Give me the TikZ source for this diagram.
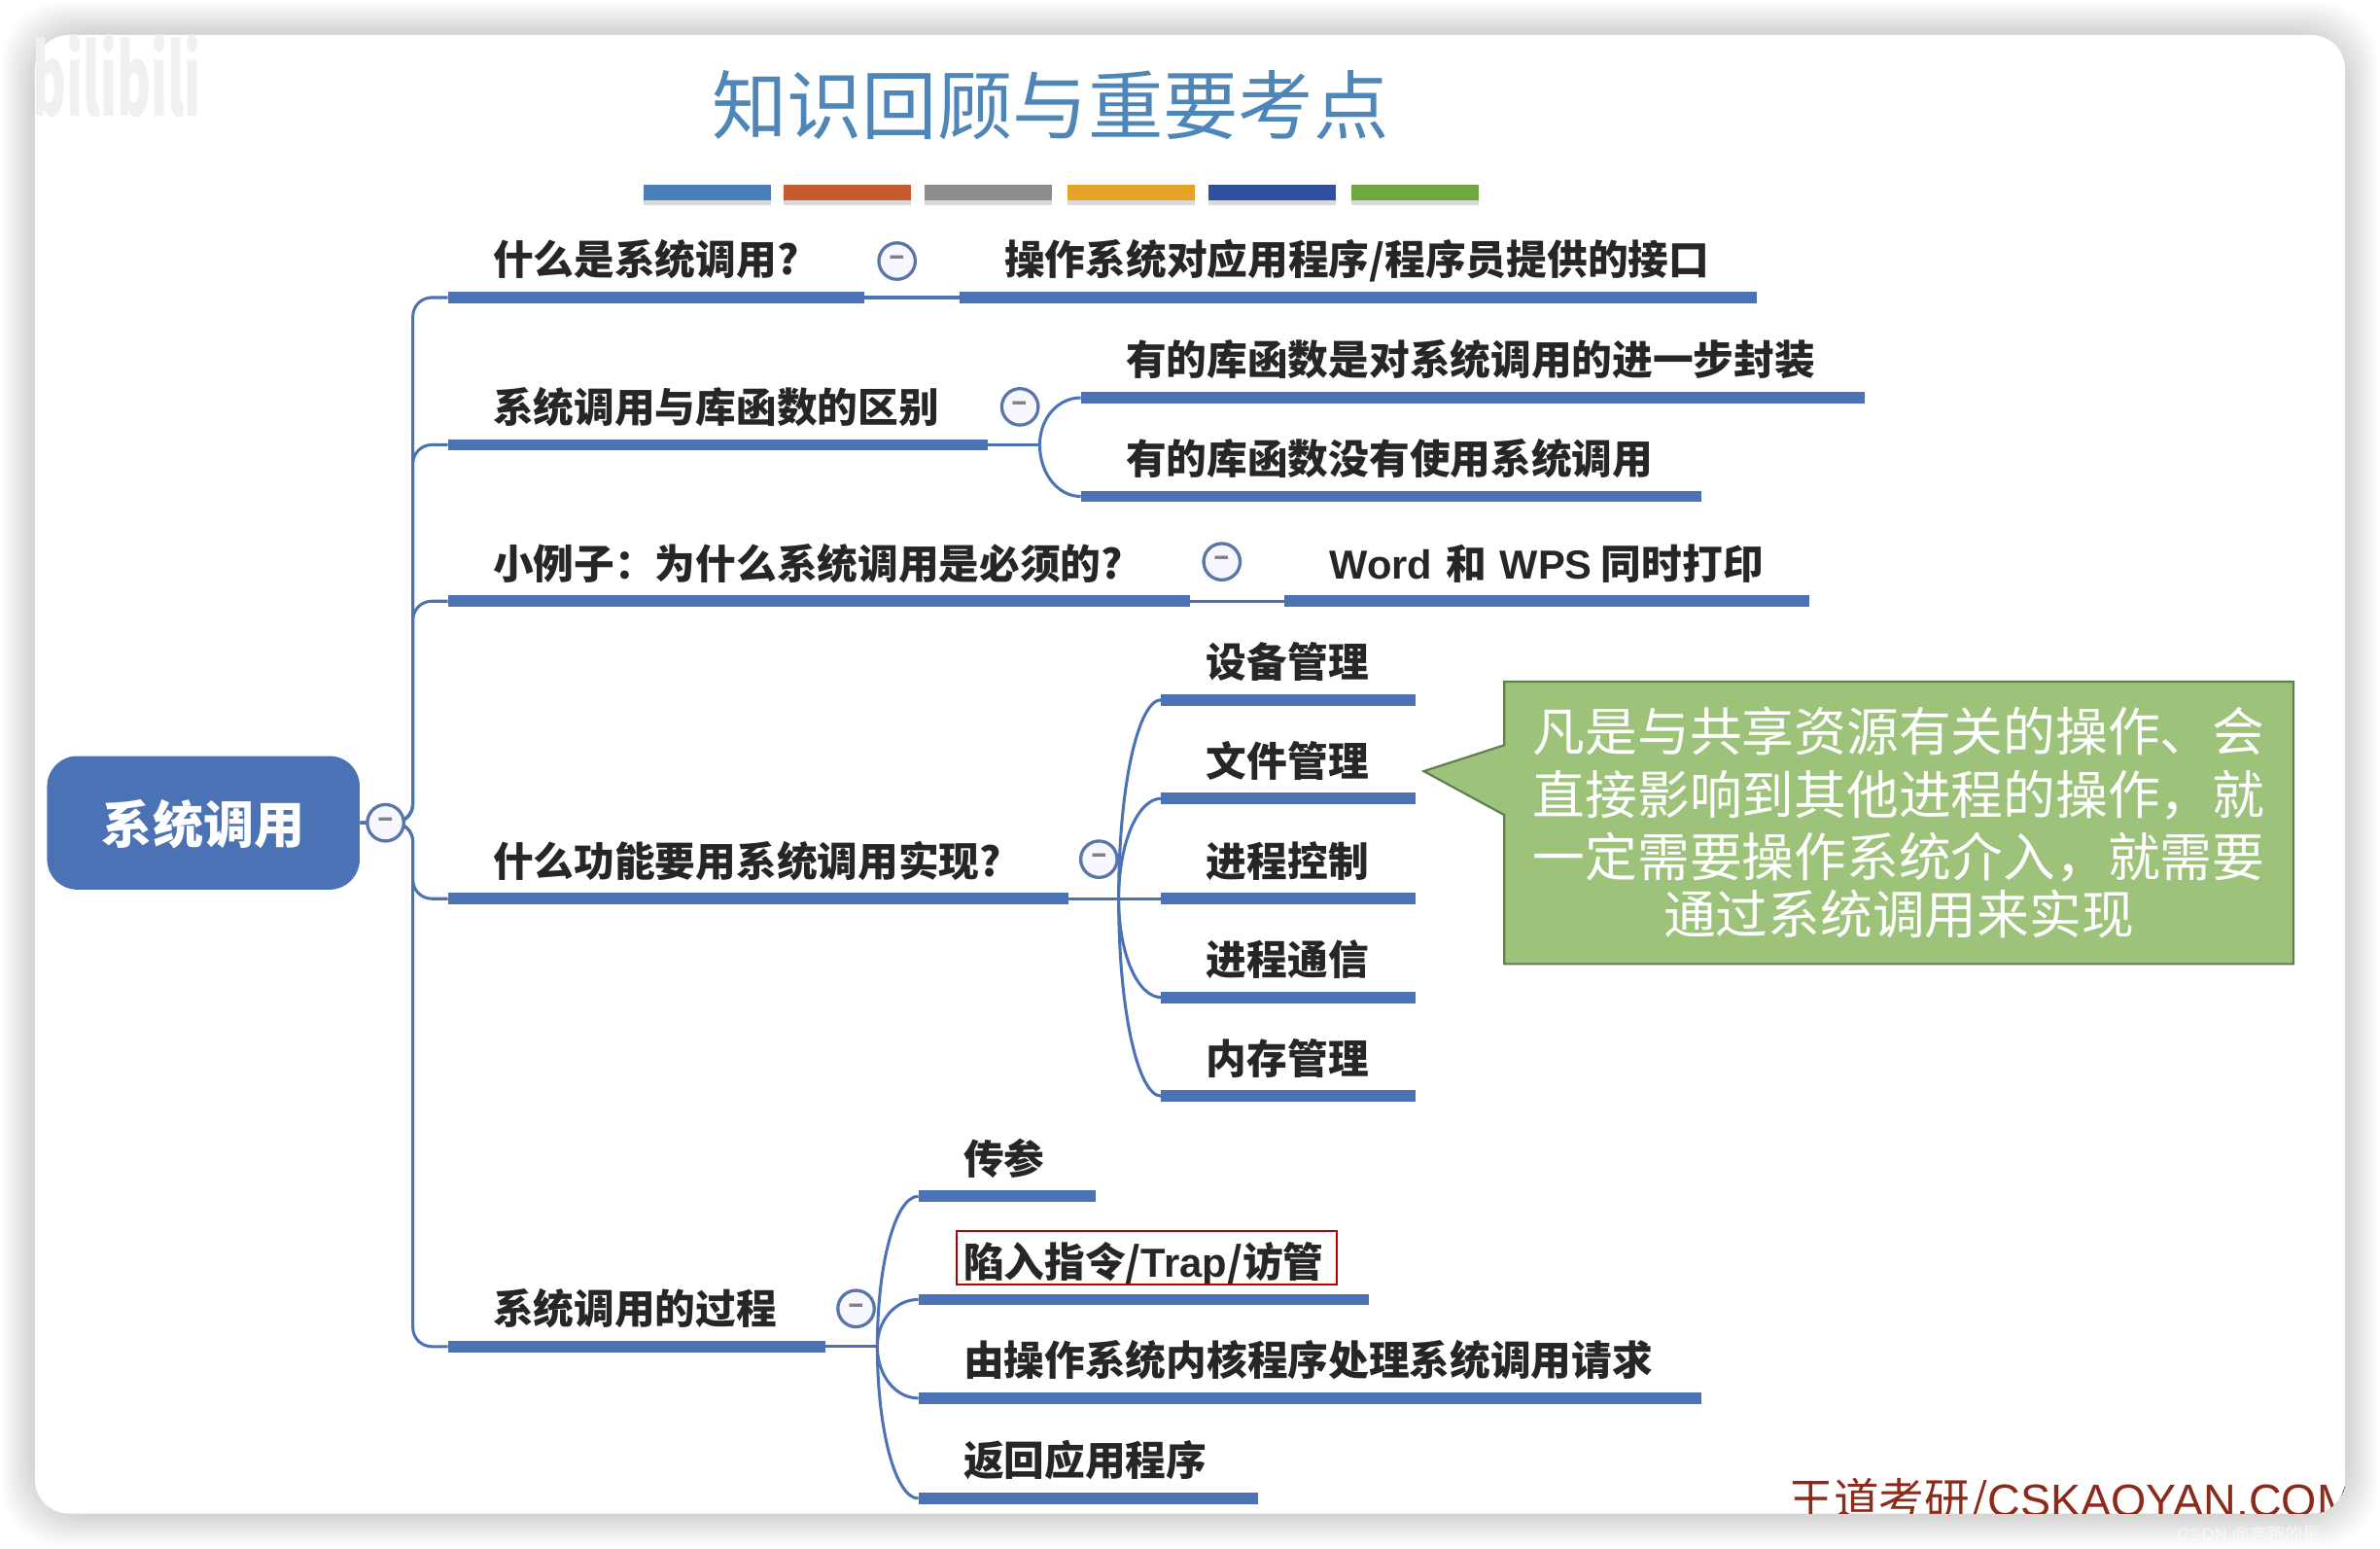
\documentclass[tikz,border=0pt]{standalone}
\usepackage{fontspec}
\setmainfont{Noto Sans CJK SC}
\newfontfamily\latinfont{Liberation Sans}
\usetikzlibrary{shapes.callouts}
\definecolor{mapblue}{HTML}{4A72B5}
\definecolor{foldblue}{HTML}{5A76A8}
\definecolor{titleblue}{HTML}{4F86B8}
\definecolor{notegreen}{HTML}{9DC37A}
\definecolor{noteedge}{HTML}{5F7F50}
\definecolor{brandred}{HTML}{8C2B1C}
\newcommand{\widecomma}{\symbol{"FF0C}}
\newcommand{\widecolon}{\symbol{"FF1A}}
\tikzset{
   topic/.style={anchor=south west, inner xsep=0.59cm, inner ysep=0.19cm,
      text width={#1*0.02cm-1.18cm}, text height=0.44cm, text depth=0.1cm,
      align=left, text=black!85, font=\fontsize{15.2pt}{18pt}\selectfont\bfseries,
      append after command={(\tikzlastnode.south west) edge[bar] (\tikzlastnode.south east)}},
   bar/.style={draw=mapblue, line width=0.15cm},
   link/.style={draw=mapblue, line width=1.1pt},
   branch/.style={in=180, out distance=#1, in distance=0.3cm},
   fold/.style={circle, draw=foldblue, fill=blue!3, line width=1.2pt, minimum size=0.48cm,
      inner sep=0pt, text=black!50, font=\fontsize{11pt}{11pt}\selectfont\bfseries},
}
\begin{document}
\begin{tikzpicture}
   [x=0.02cm, y=-0.02cm]
   \useasboundingbox (0,0) rectangle (1568,1020);
   \foreach \d in {1,...,22}
      \fill[black, opacity=0.008, rounded corners=0.8cm] (23-\d,23-\d) rectangle (1545+\d,997+\d);
   \fill[white, rounded corners=0.45cm] (23,23) rectangle (1545,997);

   \node[text=black!6, font=\fontsize{19.4pt}{24pt}\selectfont\bfseries, inner sep=0pt] (mark) at (77,50) {\scalebox{1}[1.9]{bilibili}};
   \node[text=titleblue, font=\fontsize{28.2pt}{32pt}\selectfont] (title) at (692,69) {知识回顾与重要考点};
   \foreach \x/\c in {424/4A7EBB,516/C55A2B,609/8C8C8C,703/E5A427,796/2F4FA0,890/6FA83C} {
      \definecolor{stripe}{HTML}{\c}
      \fill[black, opacity=0.15] (\x,125) rectangle ++(84,10);
      \fill[stripe] (\x,122) rectangle ++(84,10);
   }

   \node[rectangle, rounded corners=0.4cm, fill=mapblue, text=white, minimum width=4.12cm, minimum height=1.76cm,
      text height=0.71cm, text depth=0.16cm,
      font=\fontsize{19pt}{22pt}\selectfont\bfseries] (root) at (134,542) {系统调用};
   \coordinate (trunk) at (272,542);

   \node[topic=274] (what) at (295,196) {什么是系统调用?};
   \node[topic=525] (whatA) at (632,196) {操作系统对应用程序/程序员提供的接口};
   \node[topic=355] (lib) at (295,293) {系统调用与库函数的区别};
   \node[topic=516] (libA) at (712,262) {有的库函数是对系统调用的进一步封装};
   \node[topic=408] (libB) at (712,327) {有的库函数没有使用系统调用};
   \node[topic=488] (demo) at (295,396) {小例子\widecolon 为什么系统调用是必须的?};
   \node[topic=345] (demoA) at (846,396) {{\latinfont Word~}和{\latinfont ~WPS}\hspace{0.12cm}同时打印};
   \node[topic=408] (func) at (295,592) {什么功能要用系统调用实现?};
   \node[topic=167] (funcA) at (765,461) {设备管理};
   \node[topic=167] (funcB) at (765,526) {文件管理};
   \node[topic=167] (funcC) at (765,592) {进程控制};
   \node[topic=167] (funcD) at (765,657) {进程通信};
   \node[topic=167] (funcE) at (765,722) {内存管理};
   \node[topic=248] (flow) at (295,887) {系统调用的过程};
   \node[topic=116] (flowA) at (605,788) {传参};
   \node[topic=296] (flowB) at (605,856) {陷入指令/{\latinfont Trap}/访管};
   \node[topic=515] (flowC) at (605,921) {由操作系统内核程序处理系统调用请求};
   \node[topic=223] (flowD) at (605,987) {返回应用程序};

   \coordinate (libJoin) at (685,293);
   \coordinate (funcJoin) at (737,592);
   \coordinate (flowJoin) at (578,887);

   \foreach \n in {what,lib,demo,func,flow}
      \draw[link, rounded corners=0.25cm] (root.east) -- (trunk) |- (\n.south west);

   \draw[link] (what.south east) -- (whatA.south west);
   \draw[link] (demo.south east) -- (demoA.south west);
   \draw[link] (lib.south east) -- (libJoin);
   \draw[link] (libJoin) to[out=90, branch=0.35cm] (libA.south west);
   \draw[link] (libJoin) to[out=-90, branch=0.38cm] (libB.south west);
   \draw[link] (func.south east) -- (funcJoin);
   \draw[link] (funcJoin) to[out=90, branch=1.5cm] (funcA.south west);
   \draw[link] (funcJoin) to[out=90, branch=0.75cm] (funcB.south west);
   \draw[link] (funcJoin) -- (funcC.south west);
   \draw[link] (funcJoin) to[out=-90, branch=0.75cm] (funcD.south west);
   \draw[link] (funcJoin) to[out=-90, branch=1.5cm] (funcE.south west);
   \draw[link] (flow.south east) -- (flowJoin);
   \draw[link] (flowJoin) to[out=90, branch=1.1cm] (flowA.south west);
   \draw[link] (flowJoin) to[out=90, branch=0.35cm] (flowB.south west);
   \draw[link] (flowJoin) to[out=-90, branch=0.38cm] (flowC.south west);
   \draw[link] (flowJoin) to[out=-90, branch=1.1cm] (flowD.south west);

   \node[fold] (foldRoot) at (254,542) {–};
   \node[fold] (foldWhat) at (591,172) {–};
   \node[fold] (foldLib) at (672,268) {–};
   \node[fold] (foldDemo) at (805,370) {–};
   \node[fold] (foldFunc) at (724,566) {–};
   \node[fold] (foldFlow) at (564,862) {–};

   \node[draw=red!75!black, line width=0.7pt, minimum width=5.02cm, minimum height=0.7cm, inner sep=0pt] (trapBox) at (755.5,828.5) {};

   \node[rectangle callout, fill=notegreen, draw=noteedge, line width=0.8pt, text=white,
      minimum width=10.4cm, minimum height=3.72cm, inner sep=0pt, align=center,
      callout absolute pointer={(938,508)}, callout pointer width=0.92cm,
      font=\fontsize{19.6pt}{23.5pt}\selectfont] (note) at (1251,542)
      {凡是与共享资源有关的操作、会\\直接影响到其他进程的操作\widecomma 就\\一定需要操作系统介入\widecomma 就需要\\[-2pt]通过系统调用来实现};

   \begin{scope}
      \clip[rounded corners=0.45cm] (23,23) rectangle (1545,997);
      \node[anchor=base west, inner sep=0pt, text=brandred, font=\fontsize{17pt}{20pt}\selectfont] (brand) at (1178,999) {王道考研/{\latinfont CSKAOYAN.COM}};
   \end{scope}
   \node[anchor=west, inner sep=0pt, text=white, opacity=0.6, font=\fontsize{6.6pt}{8pt}\selectfont] (csdn) at (1434,1011) {{\latinfont CSDN @}奔跑的星};
\end{tikzpicture}
\end{document}
